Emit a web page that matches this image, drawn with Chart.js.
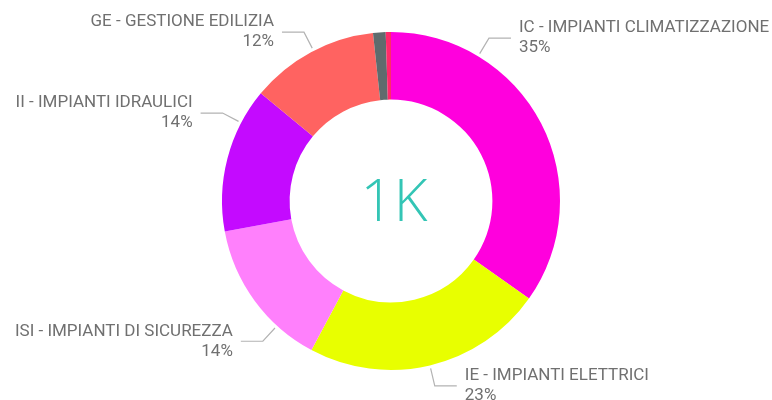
<!DOCTYPE html>
<html>
<head>
<meta charset="utf-8">
<script src="https://cdn.jsdelivr.net/npm/chart.js@4.4.1/dist/chart.umd.min.js"></script>
<style>
  html, body { margin: 0; padding: 0; background: #ffffff; }
  #wrap { position: relative; width: 772px; height: 400px; }
</style>
</head>
<body>
<div id="wrap"><canvas id="c" width="772" height="400"></canvas></div>
<script>
// ---- data ----
const categories = [
  "IC - IMPIANTI CLIMATIZZAZIONE",
  "IE - IMPIANTI ELETTRICI",
  "ISI - IMPIANTI DI SICUREZZA",
  "II - IMPIANTI IDRAULICI",
  "GE - GESTIONE EDILIZIA",
  "Altro 1",
  "Altro 2"
];
const values = [348, 230, 143, 139, 123, 12, 5];
const colors = ["#FF00DD", "#E8FF00", "#FF80FC", "#C40AFF", "#FF6361", "#5F6B6D", "#FF2A6A"];
const showLabel = [true, true, true, true, true, false, false];
const centerText = "1K";

// leader-line angle nudges (degrees), layout only
const labelAngleNudge = [-31.6, 0, -11.4, 13, 1, 0, 0];

const total = values.reduce((a, b) => a + b, 0);

const labelPlugin = {
  id: 'pbiLabels',
  afterDraw(chart) {
    const ctx = chart.ctx;
    const meta = chart.getDatasetMeta(0);
    ctx.save();
    ctx.font = '17px Roboto';
    ctx.textBaseline = 'middle';
    meta.data.forEach((arc, i) => {
      if (!showLabel[i]) return;
      const mid = (arc.startAngle + arc.endAngle) / 2 + labelAngleNudge[i] * Math.PI / 180;
      const r0 = arc.outerRadius + 3;
      const r1 = arc.outerRadius + 21;
      const x0 = arc.x + Math.cos(mid) * r0, y0 = arc.y + Math.sin(mid) * r0;
      const x1 = arc.x + Math.cos(mid) * r1, y1 = arc.y + Math.sin(mid) * r1;
      const right = x1 >= arc.x;
      const x2 = x1 + (right ? 22 : -22);
      ctx.strokeStyle = '#B3B3B3';
      ctx.lineWidth = 1.2;
      ctx.beginPath();
      ctx.moveTo(x0, y0); ctx.lineTo(x1, y1); ctx.lineTo(x2, y1);
      ctx.stroke();
      const tx = x2 + (right ? 8 : -8);
      ctx.fillStyle = '#707070';
      ctx.textAlign = right ? 'left' : 'right';
      const pct = Math.round(values[i] / total * 100) + '%';
      ctx.fillText(categories[i], tx, y1 - 10);
      ctx.fillText(pct, tx, y1 + 10);
    });
    // center text
    const a = meta.data[0];
    ctx.fillStyle = '#33C5B5';
    ctx.font = '300 58px "Open Sans"';
    ctx.textAlign = 'center';
    ctx.textBaseline = 'middle';
    ctx.fillText(centerText, a.x + 3, a.y + 3);
    ctx.restore();
  }
};

new Chart(document.getElementById('c'), {
  type: 'doughnut',
  data: {
    labels: categories,
    datasets: [{
      data: values,
      backgroundColor: colors,
      borderWidth: 0,
      hoverOffset: 0
    }]
  },
  options: {
    responsive: false,
    animation: false,
    cutout: '60%',
    layout: { padding: { top: 32, bottom: 30, left: 222, right: 212 } },
    plugins: {
      legend: { display: false },
      tooltip: { enabled: false }
    }
  },
  plugins: [labelPlugin]
});
</script>
</body>
</html>
